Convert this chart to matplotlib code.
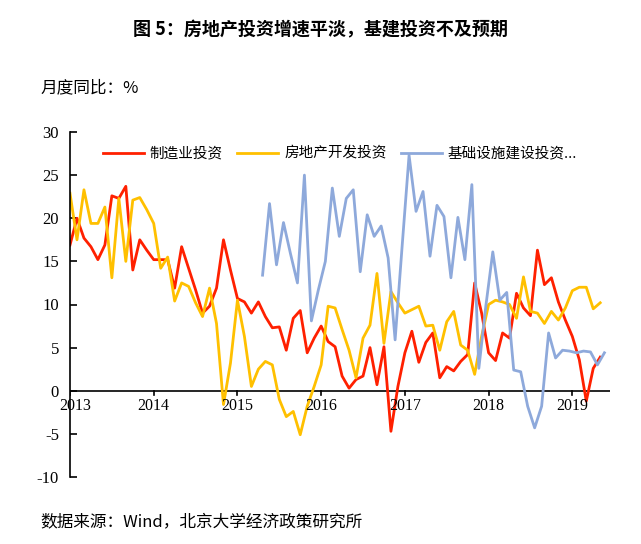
import matplotlib
matplotlib.use("Agg")
import matplotlib.pyplot as plt
import numpy as np

manufacturing = [16.9,20.0,17.7,16.7,15.2,16.9,22.6,22.3,23.7,14.0,17.5,16.3,15.2,15.2,15.2,11.9,16.7,14.2,11.7,9.0,
                 9.8,11.9,17.5,14.0,10.7,10.3,9.0,10.3,8.6,7.3,7.4,4.7,8.4,9.3,4.4,6.1,7.5,5.7,5.1,1.7,0.3,
                 1.3,1.7,5.0,0.7,5.1,-4.7,0.5,4.4,6.9,3.3,5.6,6.7,1.5,2.8,2.3,3.4,4.2,12.5,9.0,4.4,3.5,6.7,6.1,
                 11.3,9.6,8.7,16.3,12.3,13.1,10.3,8.2,6.3,3.6,-1.2,2.6,3.9]
real_estate = [22.9,17.5,23.3,19.4,19.4,21.3,13.1,22.3,15.0,22.1,22.4,21.0,19.4,14.2,15.5,10.4,12.5,12.1,10.2,8.6,
               11.9,7.8,-1.6,3.2,10.5,6.3,0.5,2.5,3.4,3.0,-1.0,-3.0,-2.4,-5.1,-1.8,0.5,3.0,9.8,9.6,7.1,4.7,
               1.5,6.1,7.6,13.6,5.5,11.5,10.2,9.0,9.4,9.8,7.5,7.6,4.7,8.0,9.2,5.3,4.7,1.9,6.3,10.0,10.5,10.3,
               10.0,8.4,13.2,9.2,9.0,7.8,9.2,8.2,9.6,11.6,12.0,12.0,9.5,10.2]
infrastructure = [13.4,21.7,14.6,19.5,15.9,12.5,25.0,8.1,11.7,15.0,
                  23.5,17.9,22.3,23.3,13.8,20.4,17.9,19.1,15.4,5.9,16.7,27.3,20.8,23.1,15.6,21.5,20.2,13.1,20.1,
                  15.2,23.9,2.6,9.8,16.1,10.5,11.4,2.4,2.2,-1.8,-4.3,-1.8,6.7,3.8,4.7,4.6,4.4,4.6,4.5,3.0,4.4]
years = [2013, 2014, 2015, 2016, 2017, 2018, 2019]
yticks = [-10, -5, 0, 5, 10, 15, 20, 25, 30]
names = ["制造业投资", "房地产开发投资", "基础设施建设投资..."]

n = len(manufacturing)
t = 2013 + np.arange(n) / 12.0
t_inf = t[n - len(infrastructure):] + 0.05

plt.rcParams["font.family"] = ["Liberation Serif", "Noto Sans CJK SC"]
fig = plt.figure(figsize=(6.41, 5.44), dpi=100)
ax = fig.add_axes([70/641, 1-477/544, 540/641, 345/544])

ax.plot(t, manufacturing, color="#FF2000", lw=2.0, label=names[0])
ax.plot(t, real_estate, color="#FFC000", lw=2.0, label=names[1])
ax.plot(t_inf, infrastructure, color="#8EA9DB", lw=2.0, label=names[2])

ax.set_xlim(2013, 2019.45)
ax.set_ylim(-10, 30)
ax.set_yticks(yticks)
ax.set_yticklabels([str(v) for v in yticks], fontsize=12)
ax.set_xticks([])
for s in ["top", "right", "bottom"]:
    ax.spines[s].set_visible(False)
ax.spines["left"].set_linewidth(1.2)
ax.tick_params(axis="y", direction="in", length=5, width=1.2, pad=8)
ax.axhline(0, color="black", lw=1.2, zorder=1)
for yr in years:
    ax.plot([yr, yr], [0, -0.5], color="black", lw=1.2)
    ax.text(yr + (0.06 if yr == years[0] else 0), -0.8, str(yr), ha="center", va="top", fontsize=11.5)

leg = ax.legend(loc="upper center", bbox_to_anchor=(0.5, 0.995), ncol=3, frameon=False,
                prop={"family": "Noto Sans CJK SC", "size": 10.5}, handlelength=2.8,
                columnspacing=1.0, handletextpad=0.4)

fig.text(0.5, 1-30/544, "图 5：房地产投资增速平淡，基建投资不及预期", ha="center", va="center",
         fontsize=13, fontweight="bold", family="Noto Sans CJK SC")
fig.text(40/641, 1-88/544, "月度同比：%", ha="left", va="center", fontsize=12,
         style="italic", family="Noto Sans CJK SC")
fig.text(40/641, 1-522/544, "数据来源：Wind，北京大学经济政策研究所", ha="left", va="center",
         fontsize=12, family="Noto Sans CJK SC")

fig.savefig("out.png", dpi=100)
